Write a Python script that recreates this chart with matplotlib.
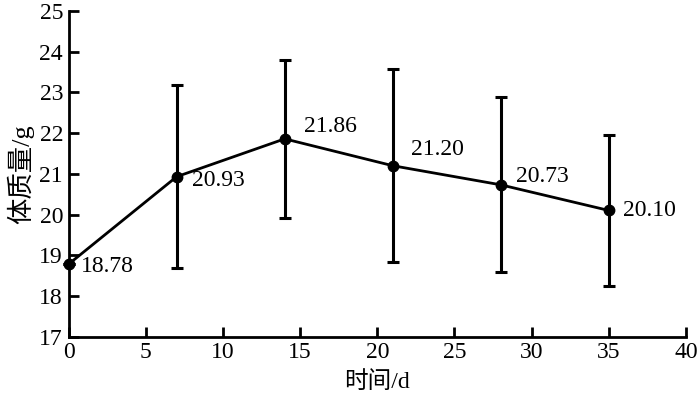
import matplotlib.pyplot as plt

plt.rcParams['font.family'] = ['Liberation Serif', 'Noto Sans CJK SC']

days = [0, 7, 14, 21, 28, 35]
mass = [18.78, 20.93, 21.86, 21.20, 20.73, 20.10]
err = [0.0, 2.25, 1.95, 2.37, 2.15, 1.86]
labels = ['18.78', '20.93', '21.86', '21.20', '20.73', '20.10']
# label offsets (points) relative to each point
offsets = [(9, -2), (11, -3), (14, 9), (13, 12), (11, 6), (10, 0)]

fig = plt.figure(figsize=(7, 3.96), dpi=100)
ax = fig.add_axes([0.098, 0.15, 0.882, 0.822])

ax.errorbar(days, mass, yerr=err, color='black', lw=2, marker='o',
            markersize=7.5, capsize=4, capthick=2.2, elinewidth=2.2, clip_on=False, zorder=3)

for x, y, t, (dx, dy) in zip(days, mass, labels, offsets):
    ax.annotate(t, (x, y), xytext=(dx, dy), textcoords='offset points',
                fontsize=17, va='center', ha='left')

ax.set_xlim(0, 40)
ax.set_ylim(17, 25)
ax.set_xticks(range(0, 41, 5))
ax.set_yticks(range(17, 26))
ax.spines['top'].set_visible(False)
ax.spines['right'].set_visible(False)
for s in ('left', 'bottom'):
    ax.spines[s].set_linewidth(2)
ax.tick_params(direction='in', length=7, width=2, labelsize=17, pad=4)
ax.set_xlabel('时间/d', fontsize=17, labelpad=6)
ax.set_ylabel('体质量/g', fontsize=19, labelpad=4)

fig.savefig('out.png', dpi=100)
